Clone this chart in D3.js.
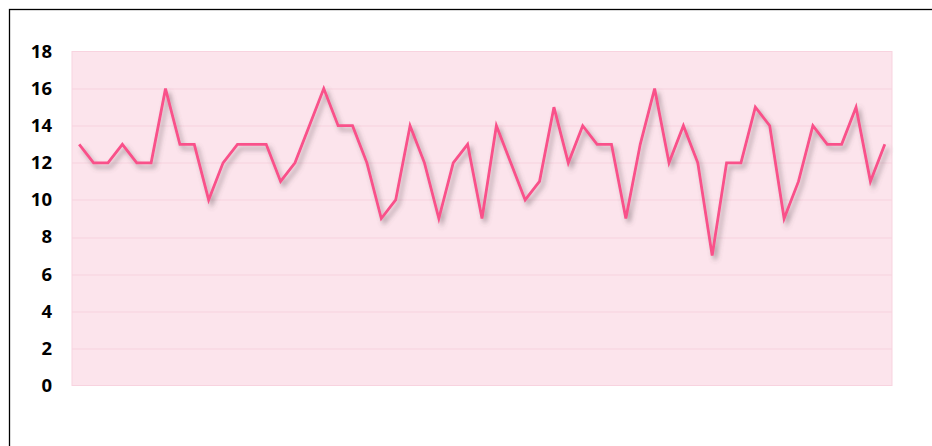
<!DOCTYPE html>
<html>
<head>
<meta charset="utf-8">
<script src="https://cdn.jsdelivr.net/npm/d3@7"></script>
<style>
  html, body { margin: 0; padding: 0; background: #fff; }
  svg { display: block; }
</style>
</head>
<body>
<svg id="chart" width="932" height="446"></svg>
<script>
const values = [13,12,12,13,12,12,16,13,13,10,12,13,13,13,11,12,14,16,14,14,12,9,10,14,12,9,12,13,9,14,12,10,11,15,12,14,13,13,9,13,16,12,14,12,7,12,12,15,14,9,11,14,13,13,15,11,13];
const categories = values.map((d, i) => i + 1);
const yTicks = [0,2,4,6,8,10,12,14,16,18];

const svg = d3.select("#chart");
const m = { left: 72, top: 51.5 };
const pw = 892 - m.left, ph = 385.5 - m.top;

// outer frame
svg.append("rect").attr("x", 9.5).attr("y", 9.5).attr("width", 1000).attr("height", 1000)
  .attr("fill", "none").attr("stroke", "#000").attr("stroke-width", 1.3);

const defs = svg.append("defs");
const f = defs.append("filter").attr("id", "shadow").attr("x", "-5%").attr("y", "-20%").attr("width", "110%").attr("height", "140%");
f.append("feGaussianBlur").attr("in", "SourceAlpha").attr("stdDeviation", 2.4).attr("result", "b");
f.append("feOffset").attr("in", "b").attr("dx", 3).attr("dy", 4).attr("result", "o");
f.append("feFlood").attr("flood-color", "#5e4e55").attr("flood-opacity", 0.5).attr("result", "c");
f.append("feComposite").attr("in", "c").attr("in2", "o").attr("operator", "in").attr("result", "s");
const mg = f.append("feMerge");
mg.append("feMergeNode").attr("in", "s");
mg.append("feMergeNode").attr("in", "SourceGraphic");

const g = svg.append("g").attr("transform", `translate(${m.left},${m.top})`);

const x = d3.scaleBand().domain(categories).range([0, pw]);
const y = d3.scaleLinear().domain([0, 18]).range([ph, 0]);

g.append("rect").attr("x", 0).attr("y", 0).attr("width", pw).attr("height", ph)
  .attr("fill", "#fce4ec").attr("stroke", "#f8d3df").attr("stroke-width", 1);

g.append("g").selectAll("line").data(yTicks.filter(t => t > 0 && t < 18)).join("line")
  .attr("x1", 0).attr("x2", pw)
  .attr("y1", d => Math.round(y(d)) + 0.5).attr("y2", d => Math.round(y(d)) + 0.5)
  .attr("stroke", "#f7d2de").attr("stroke-width", 1);

const yAxis = g.append("g").call(d3.axisLeft(y).tickValues(yTicks).tickSize(0).tickPadding(20));
yAxis.select(".domain").remove();
yAxis.selectAll("text")
  .attr("font-family", "'Open Sans', 'Liberation Sans', sans-serif")
  .attr("font-weight", "bold").attr("font-size", 18.5).attr("fill", "#000");

const line = d3.line().x((d, i) => x(categories[i]) + x.bandwidth() / 2).y(d => y(d));
g.append("path").datum(values).attr("d", line)
  .attr("fill", "none").attr("stroke", "#f9518a").attr("stroke-width", 2.8)
  .attr("stroke-linejoin", "miter").attr("filter", "url(#shadow)");
</script>
</body>
</html>
